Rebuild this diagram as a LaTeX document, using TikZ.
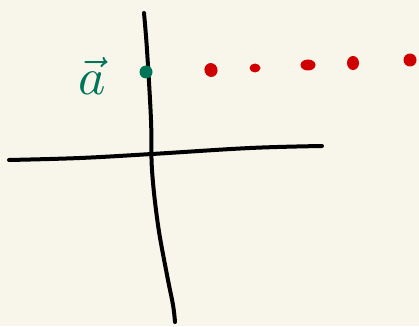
\documentclass[tikz,border=0pt]{standalone}
\usepackage{graphicx}
\usetikzlibrary{positioning,shapes.geometric}
\definecolor{paperbg}{RGB}{248,246,234}
\definecolor{vecgreen}{RGB}{0,116,88}
\definecolor{seqred}{RGB}{208,0,0}
\begin{document}
\begin{tikzpicture}[x=1pt, y=-1pt, line cap=round, line join=round]
% Sketch of a sequence of points on one line
\providecommand{\axisLineWidth}{4pt}
\tikzset{
  vecdot/.style={circle, fill=vecgreen, inner sep=0pt, minimum size=13pt},
  seqdot/.style={ellipse, fill=seqred, inner sep=0pt},
  veclabel/.style={text=vecgreen, inner sep=0pt}
}
% Paper
\fill[paperbg] (0,0) rectangle (419,326);
\useasboundingbox (0,0) rectangle (419,326);
% Axes
\begin{scope}[draw=black, line width=\axisLineWidth]
  \draw plot[smooth, tension=0.6] coordinates {(144,13) (147,50) (151,120) (152,170) (158,225) (167,275) (173,305) (175,322)};
  \draw plot[smooth, tension=0.6] coordinates {(9,160) (80,158) (152,154) (250,148) (322,146)};
\end{scope}
% The point a
\node[vecdot] (a) at (146,72) {};
\node[veclabel, left=54pt of a.center, anchor=base, yshift=-22pt] (alabel) {\scalebox{5.2}{$\vec{a}$}};
% Red sequence points
\node[seqdot, minimum width=13pt, minimum height=14pt, rotate=20] (s1) at (211,70) {};
\node[seqdot, minimum width=11pt, minimum height=9pt] (s2) at (255,68) {};
\node[seqdot, minimum width=15pt, minimum height=11pt] (s3) at (308,65) {};
\node[seqdot, minimum width=12pt, minimum height=14pt] (s4) at (353,63) {};
\node[seqdot, minimum width=13pt, minimum height=13pt] (s5) at (410,60) {};
\end{tikzpicture}
\end{document}
